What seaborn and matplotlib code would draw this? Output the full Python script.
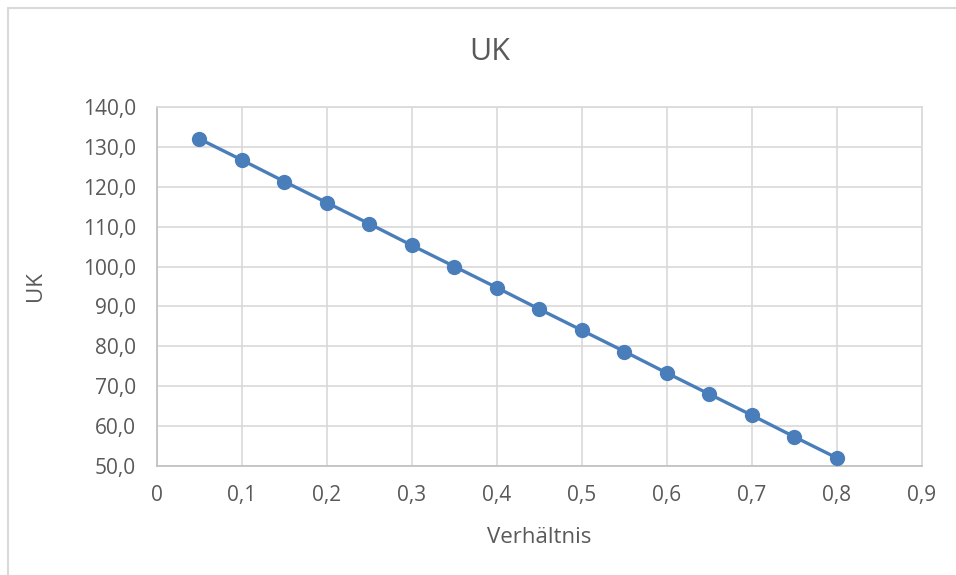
import numpy as np
import pandas as pd
import matplotlib
matplotlib.use("Agg")
import matplotlib.pyplot as plt
from matplotlib.lines import Line2D
from matplotlib.ticker import FuncFormatter
import seaborn as sns

# Werte
verhaeltnis = [0.05, 0.10, 0.15, 0.20, 0.25, 0.30, 0.35, 0.40,
               0.45, 0.50, 0.55, 0.60, 0.65, 0.70, 0.75, 0.80]
uk = [132.0, 126.7, 121.3, 116.0, 110.7, 105.3, 100.0, 94.7,
      89.3, 84.0, 78.7, 73.3, 68.0, 62.7, 57.3, 52.0]
x_ticks = [0, 0.1, 0.2, 0.3, 0.4, 0.5, 0.6, 0.7, 0.8, 0.9]
y_ticks = [50, 60, 70, 80, 90, 100, 110, 120, 130, 140]

df = pd.DataFrame({"Verhältnis": verhaeltnis, "UK": uk})

sns.set_theme(style="white")
plt.rcParams["font.family"] = ["Open Sans", "DejaVu Sans"]
grau = "#595959"

fig = plt.figure(figsize=(9.56, 5.75), dpi=100)
ax = fig.add_axes([0.1642, 0.1896, 0.8002, 0.6243])

sns.lineplot(data=df, x="Verhältnis", y="UK", ax=ax, color="#4A7EBB",
             linewidth=2.4, marker="o", markersize=11,
             markeredgewidth=0, zorder=3)

ax.set_xlim(0, 0.9)
ax.set_ylim(50, 140)
ax.set_xticks(x_ticks)
ax.set_yticks(y_ticks)
ax.xaxis.set_major_formatter(FuncFormatter(lambda v, p: "0" if v == 0 else f"{v:.1f}".replace(".", ",")))
ax.yaxis.set_major_formatter(FuncFormatter(lambda v, p: f"{v:.1f}".replace(".", ",")))
ax.grid(True, color="#D9D9D9", linewidth=1.2)
for s in ax.spines.values():
    s.set_color("#D9D9D9")
    s.set_linewidth(1.2)
ax.spines["left"].set_color("#BFBFBF")
ax.spines["bottom"].set_color("#BFBFBF")
ax.tick_params(length=0, labelsize=15, labelcolor=grau)
ax.tick_params(axis="x", pad=14)
ax.tick_params(axis="y", pad=15)

ax.set_xlabel("Verhältnis", fontsize=16, color=grau, labelpad=15)
ax.set_ylabel("UK", fontsize=16, color=grau, labelpad=27)
fig.text(0.512, 0.909, "UK", ha="center", va="center", fontsize=22, color=grau)

# Diagrammrahmen (links und oben)
fig.add_artist(Line2D([0.008, 0.008], [0, 0.986], color="#D9D9D9", linewidth=1.5))
fig.add_artist(Line2D([0.008, 1], [0.986, 0.986], color="#D9D9D9", linewidth=1.5))

fig.savefig("out.png", dpi=100, facecolor="white")
